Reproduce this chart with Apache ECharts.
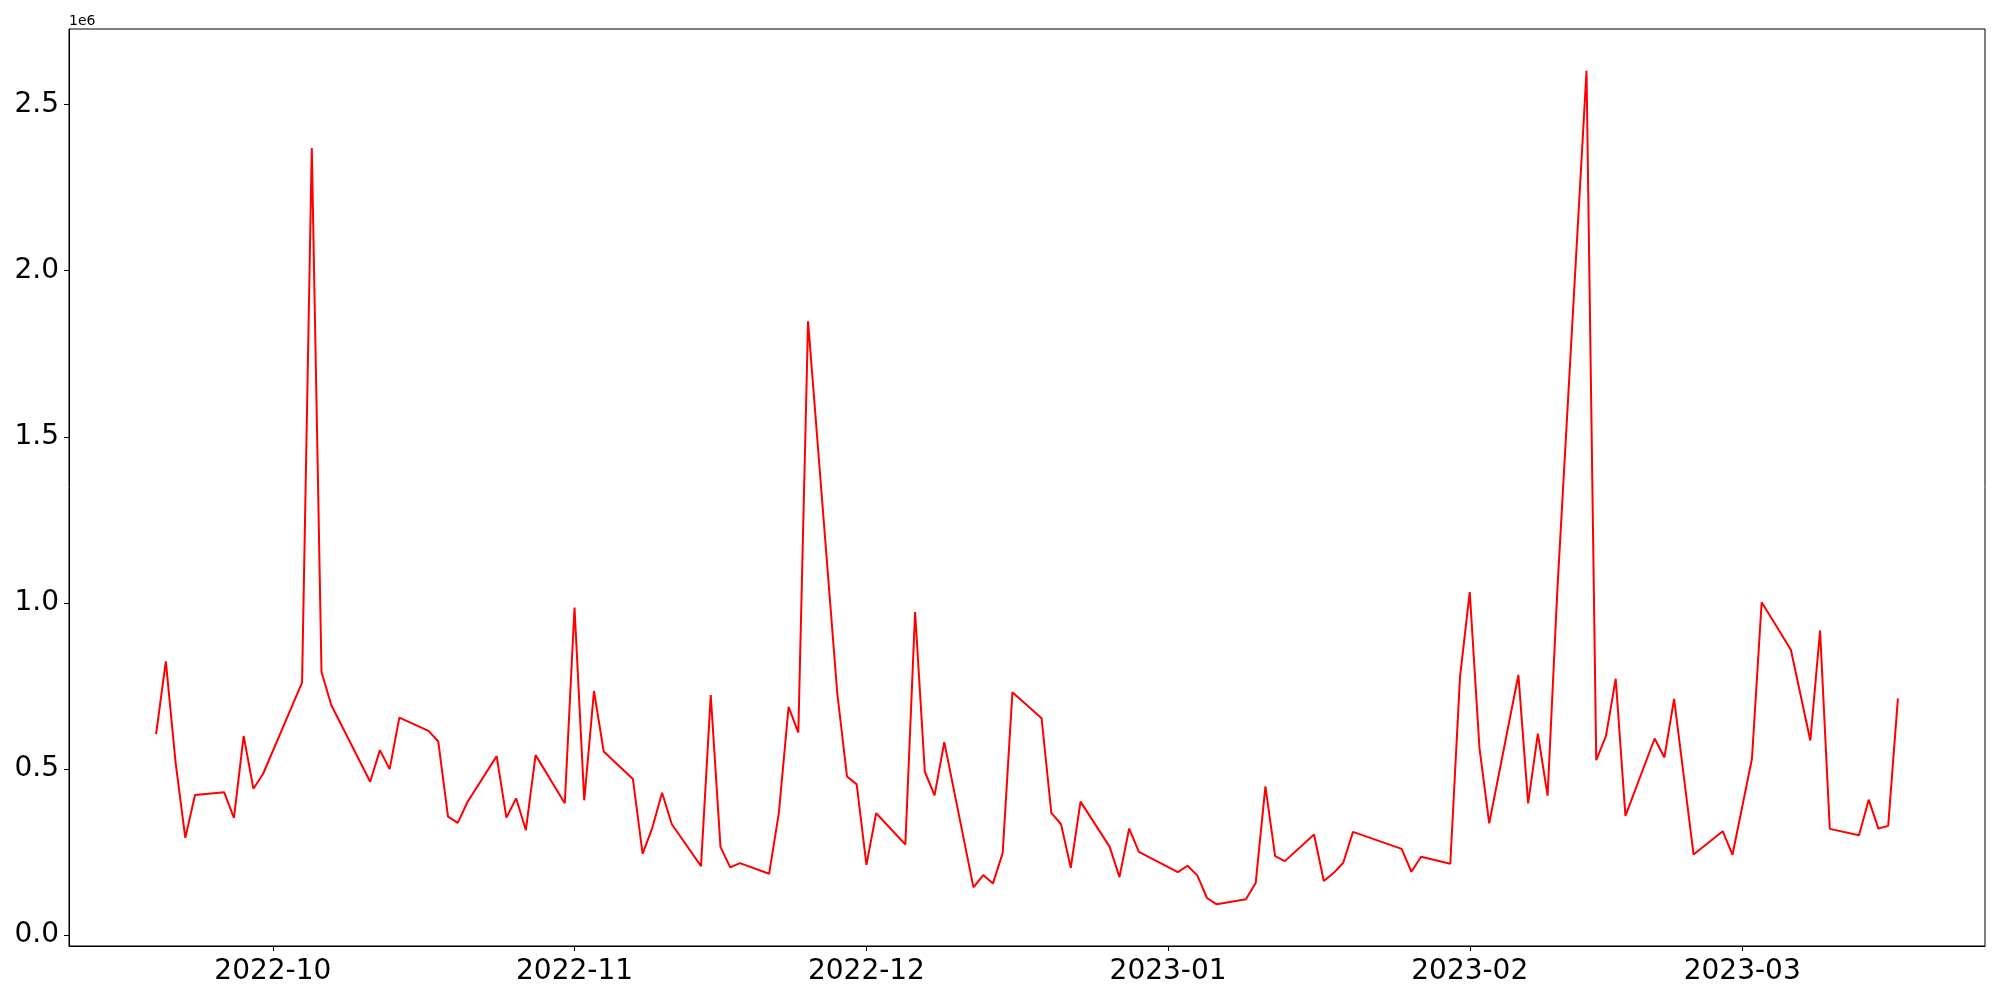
<!DOCTYPE html>
<html>
<head>
<meta charset="utf-8">
<script src="https://cdn.jsdelivr.net/npm/echarts@6/dist/echarts.min.js"></script>
<style>
html, body { margin: 0; padding: 0; background: #fff; }
#chart { width: 2000px; height: 1000px; }
</style>
</head>
<body>
<div id="chart"></div>
<script>
const dates = [
  '2022-09-19','2022-09-20','2022-09-21','2022-09-22','2022-09-23',
  '2022-09-26','2022-09-27','2022-09-28','2022-09-29','2022-09-30',
  '2022-10-04','2022-10-05','2022-10-06','2022-10-07',
  '2022-10-11','2022-10-12','2022-10-13','2022-10-14',
  '2022-10-17','2022-10-18','2022-10-19','2022-10-20','2022-10-21',
  '2022-10-24','2022-10-25','2022-10-26','2022-10-27','2022-10-28',
  '2022-10-31','2022-11-01','2022-11-02','2022-11-03','2022-11-04',
  '2022-11-07','2022-11-08','2022-11-09','2022-11-10','2022-11-11',
  '2022-11-14','2022-11-15','2022-11-16','2022-11-17','2022-11-18',
  '2022-11-21','2022-11-22','2022-11-23','2022-11-24','2022-11-25',
  '2022-11-28','2022-11-29','2022-11-30','2022-12-01','2022-12-02',
  '2022-12-05','2022-12-06','2022-12-07','2022-12-08','2022-12-09',
  '2022-12-12','2022-12-13','2022-12-14','2022-12-15','2022-12-16',
  '2022-12-19','2022-12-20','2022-12-21','2022-12-22','2022-12-23',
  '2022-12-26','2022-12-27','2022-12-28','2022-12-29',
  '2023-01-02','2023-01-03','2023-01-04','2023-01-05','2023-01-06',
  '2023-01-09','2023-01-10','2023-01-11','2023-01-12','2023-01-13',
  '2023-01-16','2023-01-17','2023-01-18','2023-01-19','2023-01-20',
  '2023-01-25','2023-01-26','2023-01-27',
  '2023-01-30','2023-01-31','2023-02-01','2023-02-02','2023-02-03',
  '2023-02-06','2023-02-07','2023-02-08','2023-02-09','2023-02-10',
  '2023-02-13','2023-02-14','2023-02-15','2023-02-16','2023-02-17',
  '2023-02-20','2023-02-21','2023-02-22','2023-02-24',
  '2023-02-27','2023-02-28','2023-03-02','2023-03-03',
  '2023-03-06','2023-03-08','2023-03-09','2023-03-10',
  '2023-03-13','2023-03-14','2023-03-15','2023-03-16','2023-03-17'
];

const values = [
  605000, 824000, 521000, 293000, 422000,
  430000, 353000, 600000, 441000, 486000,
  760000, 2369000, 792000, 693000,
  462000, 557000, 500000, 655000,
  615000, 583000, 357000, 338000, 401000,
  539000, 354000, 412000, 316000, 542000,
  397000, 986000, 406000, 735000, 553000,
  470000, 245000, 324000, 429000, 334000,
  208000, 723000, 266000, 204000, 217000,
  185000, 368000, 687000, 610000, 1848000,
  729000, 478000, 454000, 212000, 367000,
  273000, 973000, 492000, 421000, 581000,
  144000, 181000, 156000, 247000, 731000,
  653000, 368000, 334000, 203000, 402000,
  266000, 175000, 321000, 251000,
  190000, 209000, 180000, 112000, 93000,
  108000, 157000, 448000, 238000, 223000,
  303000, 163000, 187000, 218000, 311000,
  260000, 191000, 236000,
  215000, 778000, 1033000, 563000, 337000,
  783000, 397000, 607000, 420000, 1038000,
  2602000, 527000, 600000, 772000, 359000,
  592000, 535000, 711000, 243000,
  313000, 242000, 531000, 1002000,
  859000, 586000, 917000, 320000,
  301000, 408000, 321000, 329000, 713000
];

const xTickDates = ['2022-10-01','2022-11-01','2022-12-01','2023-01-01','2023-02-01','2023-03-01'];
const xTickLabels = ['2022-10','2022-11','2022-12','2023-01','2023-02','2023-03'];
const yTickValues = [0, 500000, 1000000, 1500000, 2000000, 2500000];
const yTickLabels = ['0.0','0.5','1.0','1.5','2.0','2.5'];

const toTs = s => { const p = s.split('-').map(Number); return Date.UTC(p[0], p[1]-1, p[2]); };
const seriesData = dates.map((d, i) => [toTs(d), values[i]]);
const xTicks = xTickDates.map(toTs);

const x0 = toTs(dates[0]), x1 = toTs(dates[dates.length-1]);
const xPad = (x1 - x0) * 0.05;
const vMin = Math.min(...values), vMax = Math.max(...values);
const yPad = (vMax - vMin) * 0.05;

const chart = echarts.init(document.getElementById('chart'), null, {renderer: 'canvas'});
const font = 'DejaVu Sans';
chart.setOption({
  animation: false,
  backgroundColor: '#ffffff',
  grid: {
    left: 69, right: 15, top: 29, bottom: 54,
    show: true, borderColor: '#000', borderWidth: 1, backgroundColor: 'transparent'
  },
  xAxis: {
    type: 'value',
    min: x0 - xPad,
    max: x1 + xPad,
    axisLine: { show: true, onZero: false, lineStyle: { color: '#000', width: 1 } },
    axisTick: { show: true, customValues: xTicks, length: 5, lineStyle: { color: '#000', width: 1 } },
    axisLabel: {
      customValues: xTicks,
      margin: 12,
      fontSize: 28,
      fontFamily: font,
      color: '#000',
      formatter: function (v) {
        const i = xTicks.indexOf(v);
        return i >= 0 ? xTickLabels[i] : '';
      }
    },
    splitLine: { show: false }
  },
  yAxis: {
    type: 'value',
    min: vMin - yPad,
    max: vMax + yPad,
    name: '1e6',
    nameLocation: 'end',
    nameGap: 1,
    nameTextStyle: { fontSize: 14, fontFamily: font, color: '#000', align: 'left', verticalAlign: 'bottom' },
    axisLine: { show: true, onZero: false, lineStyle: { color: '#000', width: 1 } },
    axisTick: { show: true, customValues: yTickValues, length: 5, lineStyle: { color: '#000', width: 1 } },
    axisLabel: {
      customValues: yTickValues,
      margin: 10,
      padding: [5, 0, 0, 0],
      fontSize: 28,
      fontFamily: font,
      color: '#000',
      formatter: function (v) {
        const i = yTickValues.indexOf(v);
        return i >= 0 ? yTickLabels[i] : '';
      }
    },
    splitLine: { show: false }
  },
  series: [{
    type: 'line',
    data: seriesData,
    showSymbol: false,
    symbol: 'none',
    lineStyle: { color: '#ff0000', width: 2 },
    itemStyle: { color: '#ff0000' }
  }]
});
</script>
</body>
</html>
